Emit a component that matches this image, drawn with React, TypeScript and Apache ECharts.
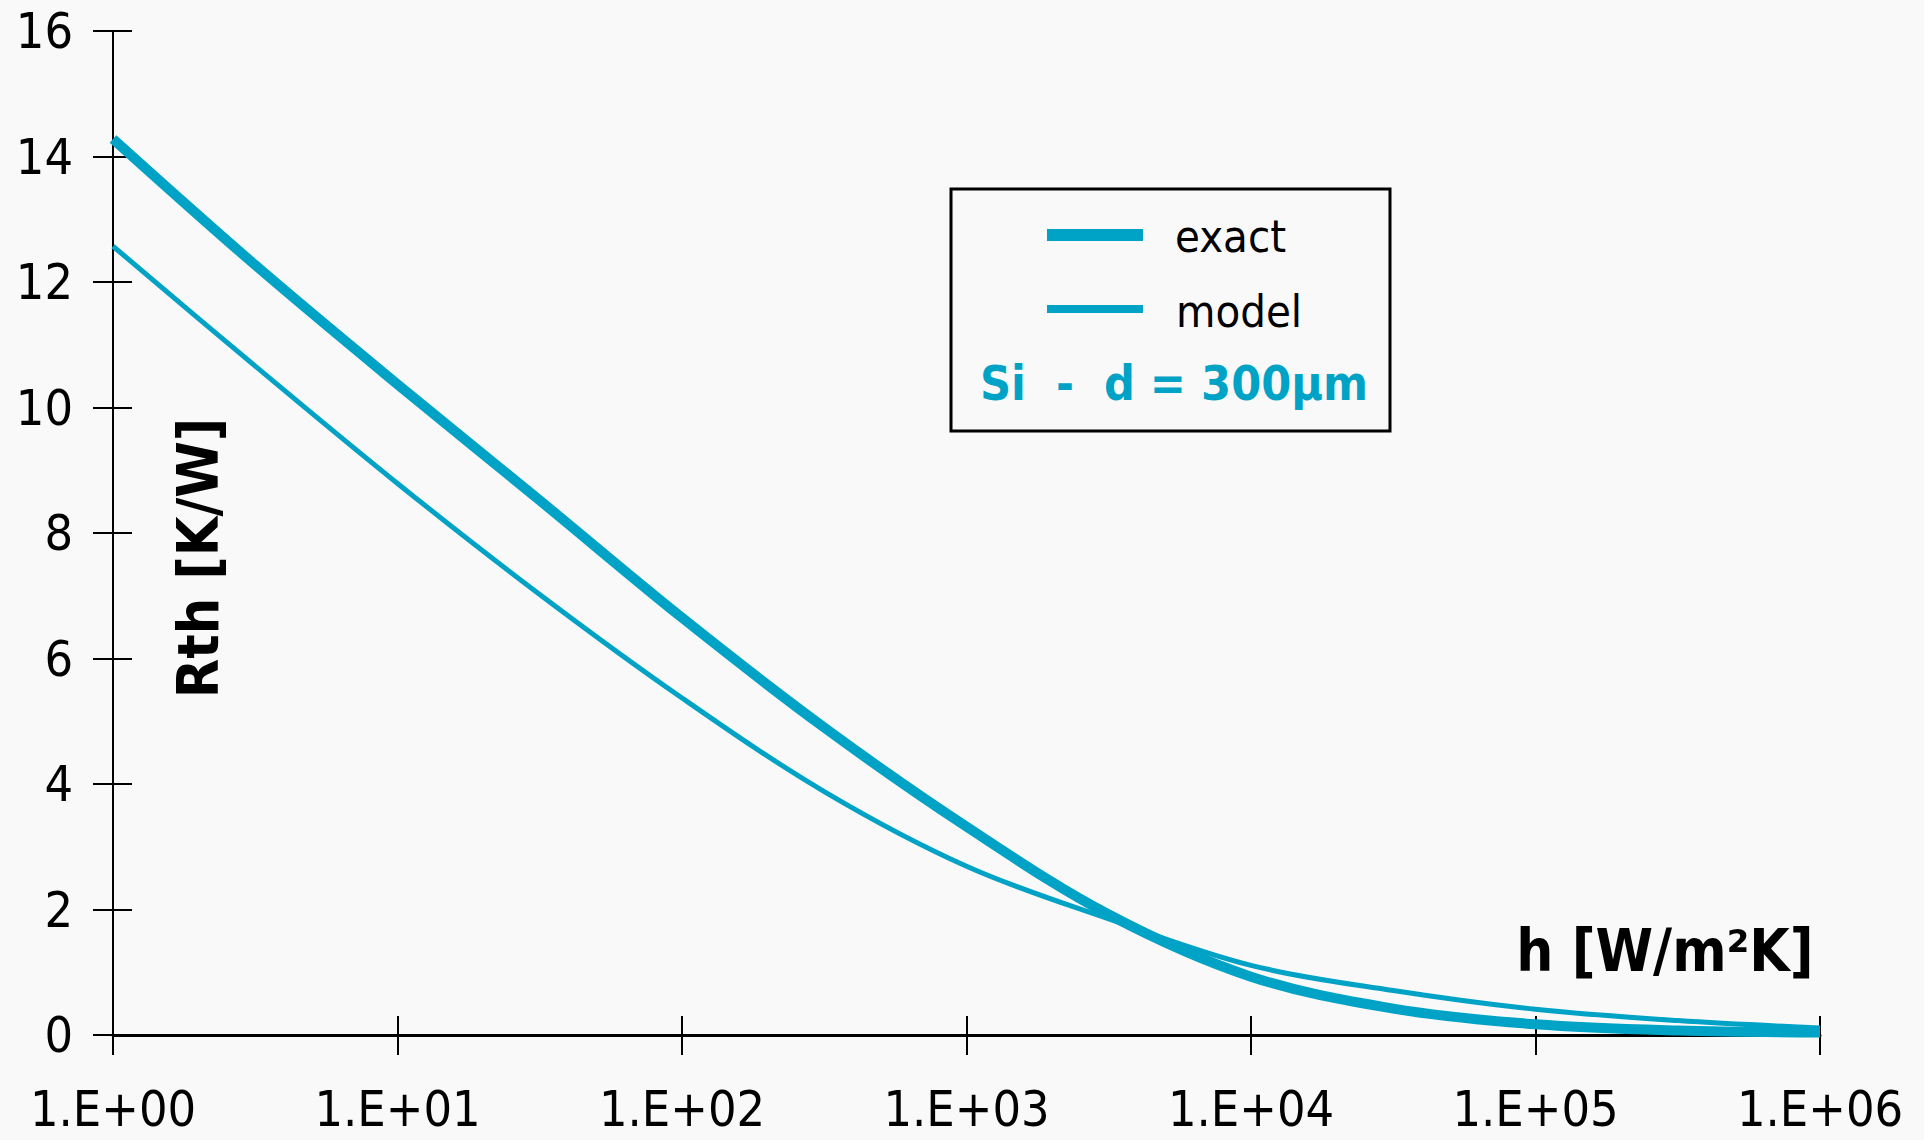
import React, { useEffect, useRef } from "react";
import * as echarts from "echarts";

// h [W/m²K], half-decade sample points
const hValues = [1, 3.162, 10, 31.62, 100, 316.2, 1000, 3162, 10000, 31623, 100000, 316228, 1000000];
// Rth [K/W]
const exactR = [14.28, 12.27, 10.37, 8.52, 6.65, 4.9, 3.32, 1.92, 0.93, 0.42, 0.17, 0.07, 0.04];
const modelR = [12.57, 10.66, 8.79, 7.02, 5.37, 3.88, 2.69, 1.85, 1.11, 0.71, 0.41, 0.23, 0.11];

const xTickLabels = ["1.E+00", "1.E+01", "1.E+02", "1.E+03", "1.E+04", "1.E+05", "1.E+06"];
const seriesNames = ["exact", "model"];
const annotation = "Si  -  d = 300µm";
const xTitle = "h [W/m²K]";
const yTitle = "Rth [K/W]";

const FONT = "'DejaVu Sans Condensed', 'DejaVu Sans', sans-serif";
const CYAN = "#00A3C6";
const BG = "#f9f9f9";

export default function App() {
  const ref = useRef<HTMLDivElement>(null);
  useEffect(() => {
    if (!ref.current) return;
    const chart = echarts.init(ref.current, undefined, { renderer: "svg" });
    const baseX = {
      type: "log" as const,
      logBase: 10,
      min: 1,
      max: 1000000,
      splitNumber: 6,
      position: "bottom" as const,
      splitLine: { show: false },
    };
    const baseY = {
      type: "value" as const,
      min: 0,
      max: 16,
      interval: 2,
      position: "left" as const,
      splitLine: { show: false },
    };
    chart.setOption({
      animation: false,
      backgroundColor: BG,
      grid: { left: 113, right: 104, top: 31, bottom: 105, containLabel: false },
      xAxis: [
        {
          ...baseX,
          axisLine: { show: true, lineStyle: { color: "#000", width: 3 } },
          axisTick: { show: true, inside: false, length: 20, lineStyle: { color: "#000", width: 2 } },
          axisLabel: {
            show: true,
            margin: 52,
            color: "#000",
            fontFamily: FONT,
            fontSize: 50,
            lineHeight: 44,
            formatter: (v: number) => xTickLabels[Math.round(Math.log10(v))] ?? "",
          },
        },
        {
          ...baseX,
          axisLine: { show: false },
          axisTick: { show: true, inside: true, length: 19, lineStyle: { color: "#000", width: 2 } },
          axisLabel: { show: false },
        },
      ],
      yAxis: [
        {
          ...baseY,
          axisLine: { show: true, lineStyle: { color: "#000", width: 2 } },
          axisTick: { show: true, inside: false, length: 20, lineStyle: { color: "#000", width: 2 } },
          axisLabel: { show: true, margin: 40, color: "#000", fontFamily: FONT, fontSize: 50, lineHeight: 44 },
        },
        {
          ...baseY,
          axisLine: { show: false },
          axisTick: { show: true, inside: true, length: 19, lineStyle: { color: "#000", width: 2 } },
          axisLabel: { show: false },
        },
      ],
      series: [
        {
          name: seriesNames[0],
          type: "line",
          smooth: 0.35,
          showSymbol: false,
          clip: false,
          data: hValues.map((h, i) => [h, exactR[i]]),
          lineStyle: { color: CYAN, width: 10 },
          z: 3,
        },
        {
          name: seriesNames[1],
          type: "line",
          smooth: 0.35,
          showSymbol: false,
          clip: false,
          data: hValues.map((h, i) => [h, modelR[i]]),
          lineStyle: { color: CYAN, width: 5 },
          z: 3,
        },
      ],
      graphic: [
        {
          type: "text",
          x: 198,
          y: 558,
          rotation: Math.PI / 2,
          style: {
            text: yTitle,
            fontFamily: FONT,
            fontWeight: "bold",
            fontSize: 57,
            fill: "#000",
            align: "center",
            verticalAlign: "middle",
          },
        },
        {
          type: "text",
          x: 1665,
          y: 951,
          style: {
            text: xTitle,
            fontFamily: FONT,
            fontWeight: "bold",
            fontSize: 58,
            fill: "#000",
            align: "center",
            verticalAlign: "middle",
          },
        },
        {
          type: "rect",
          shape: { x: 951, y: 189, width: 439, height: 242 },
          style: { fill: BG, stroke: "#000", lineWidth: 3 },
          z: 10,
        },
        {
          type: "line",
          shape: { x1: 1047, y1: 235, x2: 1143, y2: 235 },
          style: { stroke: CYAN, lineWidth: 12 },
          z: 11,
        },
        {
          type: "line",
          shape: { x1: 1047, y1: 309, x2: 1143, y2: 309 },
          style: { stroke: CYAN, lineWidth: 8 },
          z: 11,
        },
        {
          type: "text",
          x: 1175,
          y: 236,
          z: 11,
          style: { text: seriesNames[0], fontFamily: FONT, fontSize: 45, fill: "#000", align: "left", verticalAlign: "middle" },
        },
        {
          type: "text",
          x: 1176,
          y: 311,
          z: 11,
          style: { text: seriesNames[1], fontFamily: FONT, fontSize: 45, fill: "#000", align: "left", verticalAlign: "middle" },
        },
        {
          type: "text",
          x: 1174,
          y: 383,
          z: 11,
          style: {
            text: annotation,
            fontFamily: FONT,
            fontWeight: "bold",
            fontSize: 48,
            fill: CYAN,
            align: "center",
            verticalAlign: "middle",
          },
        },
      ],
    });
    return () => chart.dispose();
  }, []);
  return (
    <div
      ref={ref}
      style={{ position: "fixed", left: 0, top: 0, width: 1924, height: 1140, background: BG }}
    />
  );
}
